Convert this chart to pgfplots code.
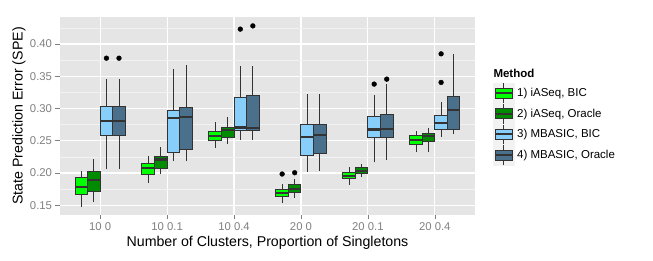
\documentclass[border=0pt]{standalone}
\usepackage{pgfplots}
\pgfplotsset{compat=1.18}
\usepackage{fontspec}
\setmainfont{Liberation Sans}
\definecolor{cA}{HTML}{00FF00}
\definecolor{cB}{HTML}{008B00}
\definecolor{cC}{HTML}{87CEFA}
\definecolor{cD}{HTML}{4A708B}
\definecolor{boxline}{HTML}{333333}
\definecolor{panelbg}{HTML}{E5E5E5}
\definecolor{gridminor}{HTML}{F2F2F2}
\definecolor{grey50}{HTML}{7F7F7F}
% #1 fill colour, #2 left edge, #3 centre, #4 right edge,
% #5 lower whisker, #6 lower quartile, #7 median, #8 upper quartile, #9 upper whisker
\newcommand\bx[9]{%
  \addplot[forget plot, boxline, line width=0.8pt] coordinates {(#3,#5) (#3,#6)};
  \addplot[forget plot, boxline, line width=0.8pt] coordinates {(#3,#8) (#3,#9)};
  \addplot[forget plot, draw=boxline, fill=#1, line width=1pt] coordinates {(#2,#6) (#4,#6) (#4,#8) (#2,#8)} --cycle;
  \addplot[forget plot, boxline, line width=2.2pt] coordinates {(#2,#7) (#4,#7)};
}
\pgfplotsset{
  key/.style={legend image code/.code={
    \fill[gridminor] (0pt,-9.9pt) rectangle (20.7pt,9.9pt);
    \draw[boxline, line width=0.8pt] (10.35pt,-9.9pt) -- (10.35pt,9.9pt);
    \draw[boxline, fill=#1, line width=1pt] (2pt,-5pt) rectangle (18.7pt,5pt);
    \draw[boxline, line width=2pt] (2pt,0pt) -- (18.7pt,0pt);
  }},
}
\begin{document}
\begin{tikzpicture}
\useasboundingbox (0,0) rectangle (653pt,261pt);
\begin{axis}[
  at={(60pt,46pt)}, anchor=south west,
  scale only axis, width=415pt, height=198pt,
  xmin=0.4, xmax=6.6, ymin=0.135, ymax=0.4418,
  axis background/.style={fill=panelbg},
  axis line style={draw=none},
  xtick={1,...,6},
  xticklabels={10 0,10 0.1,10 0.4,20 0,20 0.1,20 0.4},
  ytick={0.15,0.20,0.25,0.30,0.35,0.40},
  minor ytick={0.175,0.225,0.275,0.325,0.375,0.425},
  xmajorgrids, ymajorgrids, yminorgrids,
  major grid style={white, line width=1.1pt},
  minor grid style={gridminor, line width=0.55pt},
  tick pos=left, tick align=outside,
  major tick length=4.5pt, minor tick length=0pt,
  tick style={grey50, line width=0.6pt},
  /pgf/number format/assume math mode=true,
  yticklabel style={/pgf/number format/fixed, /pgf/number format/fixed zerofill, /pgf/number format/precision=2},
  ticklabel style={font=\fontsize{11.3}{13}\selectfont, text=grey50},
  xlabel={Number of Clusters, Proportion of Singletons},
  ylabel={State Prediction Error (SPE)},
  every axis x label/.style={at={(axis description cs:0.5,-0.1414)}, anchor=center, font=\fontsize{14.2}{16}\selectfont},
  every axis y label/.style={at={(axis description cs:-0.0988,0.5)}, rotate=90, anchor=center, font=\fontsize{14.2}{16}\selectfont},
  legend style={at={(axis description cs:1.044,0.6667)}, anchor=north west, draw=none, fill=none,
    inner sep=0pt, outer sep=0pt, row sep=0pt, nodes={inner sep=0pt, outer sep=0pt},
    font=\fontsize{11.5}{13}\selectfont},
  legend cell align=left,
  /tikz/every odd column/.append style={column sep=2.8pt},
]
% group 1: 10 0
\bx{cA}{0.625}{0.71875}{0.8125}{0.148}{0.1675}{0.178}{0.193}{0.203}
\bx{cB}{0.8125}{0.90625}{1.0}{0.155}{0.172}{0.189}{0.203}{0.221}
\bx{cC}{1.0}{1.09375}{1.1875}{0.206}{0.258}{0.2805}{0.303}{0.346}
\bx{cD}{1.1875}{1.28125}{1.375}{0.206}{0.258}{0.2805}{0.303}{0.346}
% group 2: 10 0.1
\bx{cA}{1.625}{1.71875}{1.8125}{0.185}{0.198}{0.208}{0.2155}{0.226}
\bx{cB}{1.8125}{1.90625}{2.0}{0.198}{0.207}{0.221}{0.225}{0.240}
\bx{cC}{2.0}{2.09375}{2.1875}{0.218}{0.2325}{0.285}{0.2965}{0.3615}
\bx{cD}{2.1875}{2.28125}{2.375}{0.218}{0.2367}{0.2867}{0.3017}{0.3667}
% group 3: 10 0.4
\bx{cA}{2.625}{2.71875}{2.8125}{0.239}{0.2506}{0.257}{0.264}{0.279}
\bx{cB}{2.8125}{2.90625}{3.0}{0.2444}{0.2547}{0.2666}{0.271}{0.287}
\bx{cC}{3.0}{3.09375}{3.1875}{0.251}{0.2655}{0.2707}{0.3166}{0.3657}
\bx{cD}{3.1875}{3.28125}{3.375}{0.251}{0.2655}{0.270}{0.3197}{0.3657}
% group 4: 20 0
\bx{cA}{3.625}{3.71875}{3.8125}{0.154}{0.164}{0.169}{0.1748}{0.1835}
\bx{cB}{3.8125}{3.90625}{4.0}{0.162}{0.1706}{0.1748}{0.183}{0.191}
\bx{cC}{4.0}{4.09375}{4.1875}{0.201}{0.2274}{0.256}{0.275}{0.322}
\bx{cD}{4.1875}{4.28125}{4.375}{0.2036}{0.230}{0.259}{0.275}{0.322}
% group 5: 20 0.1
\bx{cA}{4.625}{4.71875}{4.8125}{0.182}{0.1923}{0.1954}{0.2005}{0.2088}
\bx{cB}{4.8125}{4.90625}{5.0}{0.1938}{0.1995}{0.2026}{0.2088}{0.214}
\bx{cC}{5.0}{5.09375}{5.1875}{0.2166}{0.2557}{0.2676}{0.288}{0.3207}
\bx{cD}{5.1875}{5.28125}{5.375}{0.220}{0.2557}{0.268}{0.2913}{0.3378}
% group 6: 20 0.4
\bx{cA}{5.625}{5.71875}{5.8125}{0.2325}{0.2438}{0.251}{0.2588}{0.2645}
\bx{cB}{5.8125}{5.90625}{6.0}{0.2325}{0.249}{0.2568}{0.2608}{0.270}
\bx{cC}{6.0}{6.09375}{6.1875}{0.256}{0.2676}{0.277}{0.2898}{0.31}
\bx{cD}{6.1875}{6.28125}{6.375}{0.26}{0.267}{0.298}{0.318}{0.3847}
% outliers
\addplot[forget plot, only marks, mark=*, mark size=2.4pt, mark options={draw=black, fill=black}] coordinates {
  (1.09375,0.378) (1.28125,0.378)
  (3.09375,0.423) (3.28125,0.428)
  (3.71875,0.1985) (3.90625,0.2005)
  (5.09375,0.3378) (5.28125,0.3455)
  (6.09375,0.3847) (6.09375,0.3404)
};
\addlegendimage{key=cA}\addlegendentry{1) iASeq, BIC}
\addlegendimage{key=cB}\addlegendentry{2) iASeq, Oracle}
\addlegendimage{key=cC}\addlegendentry{3) MBASIC, BIC}
\addlegendimage{key=cD}\addlegendentry{4) MBASIC, Oracle}
\end{axis}
\node[anchor=west, inner sep=0pt, font=\fontsize{11.5}{13}\selectfont\bfseries] at (493.3pt,188pt) {Method};
\end{tikzpicture}
\end{document}
